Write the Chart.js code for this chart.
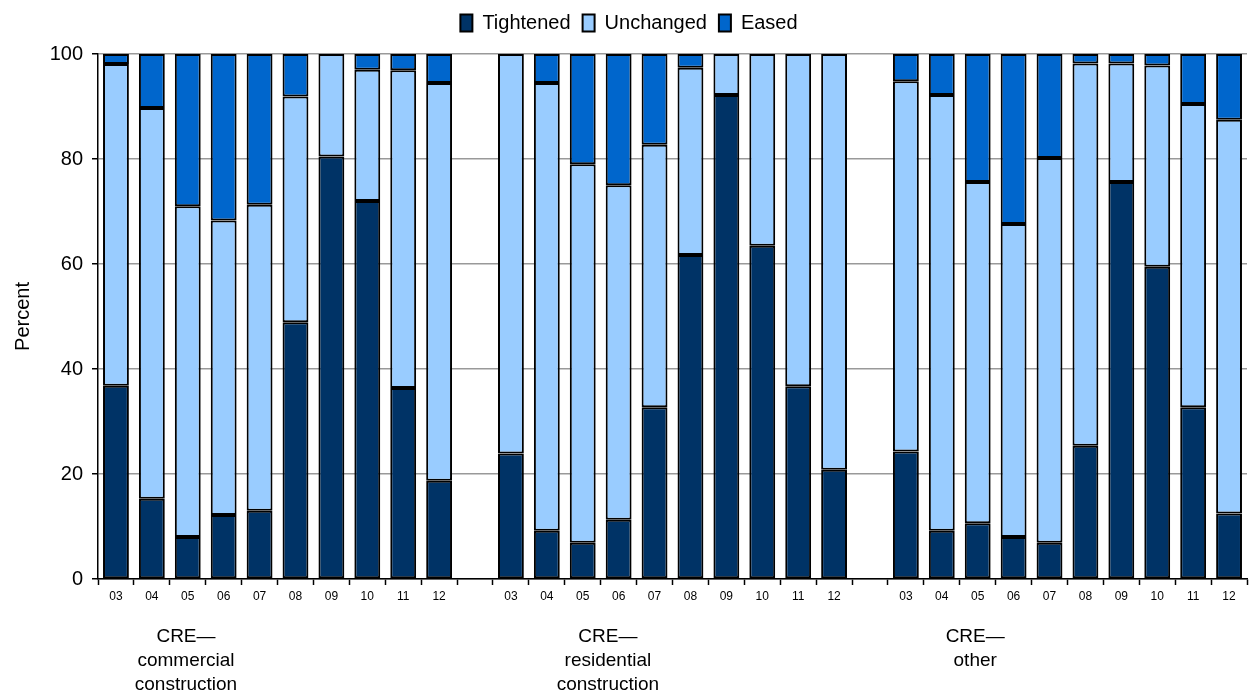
<!DOCTYPE html>
<html>
<head>
<meta charset="utf-8">
<script src="https://cdn.jsdelivr.net/npm/chart.js@4/dist/chart.umd.min.js"></script>
<style>
  html, body { margin: 0; padding: 0; background: #fff; }
  #wrap { width: 1259px; height: 696px; }
</style>
</head>
<body>
<div id="wrap"><canvas id="barChart"></canvas></div>
<script>
// x 라벨 (그룹 사이 빈 칸 포함)
const months = ['03', '04', '05', '06', '07', '08', '09', '10', '11', '12',
  '',
  '03', '04', '05', '06', '07', '08', '09', '10', '11', '12',
  '',
  '03', '04', '05', '06', '07', '08', '09', '10', '11', '12'];

// 그룹 이름
const groupNames = [
  ['CRE\u2014', 'commercial', 'construction'],
  ['CRE\u2014', 'residential', 'construction'],
  ['CRE\u2014', 'other']
];

// 값 (퍼센트)
const tightened = [36.8, 15.3, 8.0, 12.2, 13.0, 48.9, 80.5, 72.0, 36.4, 18.7,
  null,
  23.9, 9.2, 6.9, 11.3, 32.7, 61.7, 92.2, 63.5, 36.7, 20.8,
  null,
  24.3, 9.2, 10.6, 8.0, 6.9, 25.4, 75.6, 59.5, 32.7, 12.5];

const unchanged = [61.3, 74.4, 63.0, 56.1, 58.3, 43.0, 19.5, 25.0, 60.5, 75.8,
  null,
  76.1, 85.3, 72.1, 63.7, 50.0, 35.7, 7.8, 36.5, 63.3, 79.2,
  null,
  70.5, 83.0, 65.0, 59.6, 73.3, 72.8, 22.6, 38.3, 57.8, 75.0];

const eased = [1.9, 10.3, 29.0, 31.7, 28.7, 8.1, 0, 3.0, 3.1, 5.5,
  null,
  0, 5.5, 21.0, 25.0, 17.3, 2.6, 0, 0, 0, 0,
  null,
  5.2, 7.8, 24.4, 32.4, 19.8, 1.8, 1.8, 2.2, 9.5, 12.5];

const yTicks = [0, 20, 40, 60, 80, 100];

const fontName = "'Liberation Sans', Arial, sans-serif";

// 범례 아래 여백 늘리기
const legendGapPlugin = {
  id: 'legendGap',
  afterInit(chart) {
    const orig = chart.legend.fit;
    chart.legend.fit = function () {
      orig.call(this);
      this.height += 11;
    };
  }
};

// 그룹 라벨 그리는 플러그인
const groupLabelPlugin = {
  id: 'groupLabels',
  afterDraw(chart) {
    const ctx = chart.ctx;
    const x = chart.scales.x;
    const spots = [1.95, 13.7, 23.93];
    ctx.save();
    ctx.fillStyle = '#000';
    ctx.font = '19px ' + fontName;
    ctx.textAlign = 'center';
    ctx.textBaseline = 'middle';
    groupNames.forEach((lines, g) => {
      const px = x.getPixelForValue(spots[g]);
      lines.forEach((txt, i) => {
        ctx.fillText(txt, px, 637 + i * 24);
      });
    });
    ctx.restore();
  }
};

function makeSet(label, data, color) {
  return {
    label: label,
    data: data,
    backgroundColor: color,
    borderColor: '#000',
    borderWidth: 2,
    borderSkipped: false,
    barPercentage: 0.72,
    categoryPercentage: 1.0
  };
}

const ctx = document.getElementById('barChart').getContext('2d');
window.barChart = new Chart(ctx, {
  type: 'bar',
  data: {
    labels: months,
    datasets: [
      makeSet('Tightened', tightened, '#003366'),
      makeSet('Unchanged', unchanged, '#99CCFF'),
      makeSet('Eased', eased, '#0066CC')
    ]
  },
  options: {
    responsive: true,
    maintainAspectRatio: false,
    animation: false,
    layout: { padding: { left: 11, right: 12, top: 1, bottom: 0 } },
    plugins: {
      tooltip: { enabled: false },
      legend: {
        position: 'top',
        labels: {
          color: '#000',
          font: { family: fontName, size: 20 },
          boxWidth: 12,
          boxHeight: 17,
          padding: 12
        }
      }
    },
    scales: {
      x: {
        stacked: true,
        offset: true,
        grid: {
          display: true,
          offset: true,
          drawOnChartArea: false,
          drawTicks: true,
          tickLength: 6,
          tickColor: '#000',
          tickWidth: 1.5
        },
        border: { color: '#000', width: 1.5 },
        ticks: {
          color: '#000',
          font: { family: fontName, size: 12 },
          maxRotation: 0,
          autoSkip: false,
          padding: 4
        },
        afterFit(scale) { scale.height = 117; }
      },
      y: {
        stacked: true,
        min: 0,
        max: 100,
        afterBuildTicks(scale) { scale.ticks = yTicks.map(v => ({ value: v })); },
        grid: {
          color: '#999',
          lineWidth: 1.5,
          tickColor: '#000',
          tickLength: 6,
          tickWidth: 1.5
        },
        border: { color: '#000', width: 1.5 },
        ticks: {
          color: '#000',
          font: { family: fontName, size: 20 },
          padding: 9
        },
        title: {
          display: true,
          text: 'Percent',
          color: '#000',
          font: { family: fontName, size: 20 },
          padding: { top: 0, bottom: 8 }
        },
        afterFit(scale) { scale.width = 87; }
      }
    }
  },
  plugins: [legendGapPlugin, groupLabelPlugin]
});
</script>
</body>
</html>
